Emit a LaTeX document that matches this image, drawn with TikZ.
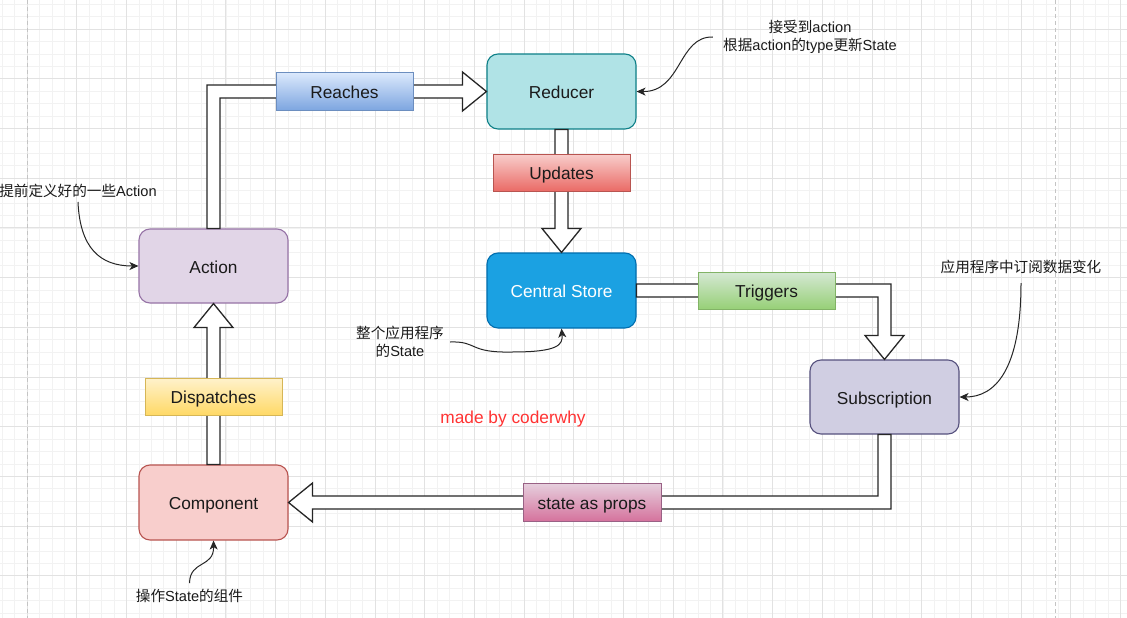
\documentclass[tikz,border=0pt]{standalone}
\usepackage{fontspec}
\setmainfont{Liberation Sans}
\newfontfamily\cjk{Noto Sans CJK SC}
\usetikzlibrary{calc,arrows.meta}
\definecolor{gminor}{HTML}{F2F2F2}
\definecolor{gmajor}{HTML}{E2E2E2}
\definecolor{gpage}{HTML}{C4C4C4}
\definecolor{reducerfill}{HTML}{B0E3E6}\definecolor{reducerline}{HTML}{0E8088}
\definecolor{storefill}{HTML}{1BA1E2}\definecolor{storeline}{HTML}{006EAF}
\definecolor{subfill}{HTML}{D0CEE2}\definecolor{subline}{HTML}{56517E}
\definecolor{compfill}{HTML}{F8CECC}\definecolor{compline}{HTML}{B85450}
\definecolor{actfill}{HTML}{E1D5E7}\definecolor{actline}{HTML}{9673A6}
\definecolor{blueA}{HTML}{DAE8FC}\definecolor{blueB}{HTML}{7EA6E0}\definecolor{blueL}{HTML}{6C8EBF}
\definecolor{redA}{HTML}{F8CECC}\definecolor{redB}{HTML}{EA6B66}\definecolor{redL}{HTML}{B85450}
\definecolor{greenA}{HTML}{D5E8D4}\definecolor{greenB}{HTML}{97D077}\definecolor{greenL}{HTML}{82B366}
\definecolor{yelA}{HTML}{FFF2CC}\definecolor{yelB}{HTML}{FFD966}\definecolor{yelL}{HTML}{D6B656}
\definecolor{pinkA}{HTML}{E6D0DE}\definecolor{pinkB}{HTML}{D5739D}\definecolor{pinkL}{HTML}{996185}
\definecolor{madered}{HTML}{FF3333}
\definecolor{txt}{HTML}{1A1A1A}
\tikzset{
  mainbox/.style={draw, line width=1.1pt, rounded corners=11pt, minimum width=149pt, minimum height=75pt, inner sep=0pt, text height=14.4pt, text depth=0pt, text=txt, font=\fontsize{17.3}{20}\selectfont},
  labelbox/.style={draw, line width=1pt, minimum width=137pt, minimum height=37pt, inner sep=0pt, text height=14.4pt, text depth=0pt, text=txt, font=\fontsize{17.3}{20}\selectfont},
  flex/.style={draw=black!85, fill=white, line width=1.3pt, line join=miter},
  notetext/.style={inner sep=0pt, align=center, text=txt, font=\fontsize{14.6}{17.5}\selectfont},
  notearrow/.style={draw=black!85, line width=1pt, -{Stealth[length=9pt,width=8pt,inset=2.5pt]}},
}
\begin{document}
\begin{tikzpicture}[x=1pt,y=-1pt]
\useasboundingbox (0,0) rectangle (1127,618);
\fill[white] (0,0) rectangle (1127,618);
% grid
\foreach \i in {0,...,90} {\draw[gminor, line width=0.6pt] ({2.15+\i*12.425},0) -- ++(0,618);}
\foreach \j in {0,...,49} {\draw[gminor, line width=0.6pt] (0,{4.15+\j*12.425}) -- ++(1127,0);}
\foreach \i in {0,...,22} {\draw[gmajor, line width=0.7pt] ({27+\i*49.7},0) -- ++(0,618);}
\foreach \j in {0,...,12} {\draw[gmajor, line width=0.7pt] (0,{29+\j*49.7}) -- ++(1127,0);}
\draw[gpage, line width=0.9pt, dash pattern=on 4pt off 3pt] (27,0) -- (27,618);
\draw[gpage, line width=0.9pt, dash pattern=on 4pt off 3pt] (1055,0) -- (1055,618);

% main nodes
\node[mainbox, fill=reducerfill, draw=reducerline] (reducer) at (561.5,91.5) {Reducer};
\node[mainbox, fill=storefill, draw=storeline, text=white] (central) at (561.5,290.5) {Central Store};
\node[mainbox, fill=actfill, draw=actline, minimum height=74pt] (action) at (213.5,266) {Action};
\node[mainbox, fill=compfill, draw=compline] (component) at (213.5,502.5) {Component};
\node[mainbox, fill=subfill, draw=subline, minimum height=74pt] (subscription) at (884.5,397) {Subscription};

% flex arrows
\draw[flex] ($(action.north)+(-6.5,0)$) |- ($(reducer.west)+(-24,-6.5)$) -- ++(0,-13) -- (reducer.west) -- ++(-24,19.5) -- ++(0,-13) -| ($(action.north)+(6.5,0)$) -- cycle;
\draw[flex] ($(reducer.south)+(-6.5,0)$) -- ($(central.north)+(-6.5,-24)$) -- ++(-13,0) -- (central.north) -- ++(19.5,-24) -- ++(-13,0) -- ($(reducer.south)+(6.5,0)$) -- cycle;
\draw[flex] ($(central.east)+(0,-6.5)$) -| ($(subscription.north)+(6.5,-24)$) -- ++(13,0) -- (subscription.north) -- ++(-19.5,-24) -- ++(13,0) |- ($(central.east)+(0,6.5)$) -- cycle;
\draw[flex] ($(subscription.south)+(6.5,0)$) |- ($(component.east)+(24,6.5)$) -- ++(0,13) -- (component.east) -- ++(24,-19.5) -- ++(0,13) -| ($(subscription.south)+(-6.5,0)$) -- cycle;
\draw[flex] ($(component.north)+(-6.5,0)$) -- ($(action.south)+(-6.5,24)$) -- ++(-13,0) -- (action.south) -- ++(19.5,24) -- ++(-13,0) -- ($(component.north)+(6.5,0)$) -- cycle;

% label boxes
\node[labelbox, draw=blueL, top color=blueA, bottom color=blueB] (reaches) at (344.5,91.5) {Reaches};
\node[labelbox, draw=redL, top color=redA, bottom color=redB] (updates) at (561.5,172.5) {Updates};
\node[labelbox, draw=greenL, top color=greenA, bottom color=greenB] (triggers) at (766.5,290.5) {Triggers};
\node[labelbox, draw=yelL, top color=yelA, bottom color=yelB] (dispatches) at (213.5,396.5) {Dispatches};
\node[labelbox, draw=pinkL, top color=pinkA, bottom color=pinkB, minimum width=138pt, minimum height=38pt] (props) at (592,502) {state as props};

% notes
\node[notetext] (n1) at (78,191) {{\cjk 提前定义好的一些}Action};
\node[notetext, inner xsep=10pt] (n2) at (810,37) {{\cjk 接受到}action\\{\cjk 根据}action{\cjk 的}type{\cjk 更新}State};
\node[notetext] (n3) at (1021,267) {{\cjk 应用程序中订阅数据变化}};
\node[notetext, inner xsep=6pt] (n4) at (400,342) {{\cjk 整个应用程序}\\{\cjk 的}State};
\node[notetext] (n5) at (189.5,596) {{\cjk 操作}State{\cjk 的组件}};
\node[inner sep=0pt, text=madered, text height=14.4pt, text depth=0pt, font=\fontsize{17.3}{20}\selectfont] (made) at (513,416) {made by coderwhy};

\draw[notearrow] ($(n1.south)+(0,4)$) .. controls (80,248) and (100,266) .. (action.west);
\draw[notearrow] (n2.west) .. controls (678,36) and (682,92) .. (reducer.east);
\draw[notearrow] ($(n3.south)+(0,9)$) .. controls (1021,370) and (995,397) .. (subscription.east);
\draw[notearrow] (n4.east) .. controls (478,341) and (468,353) .. (512,352) .. controls (558,352) and (563,345) .. (central.south);
\draw[notearrow] ($(n5.north)+(0,-6)$) .. controls (190,560) and (214,568) .. (component.south);
\end{tikzpicture}
\end{document}
